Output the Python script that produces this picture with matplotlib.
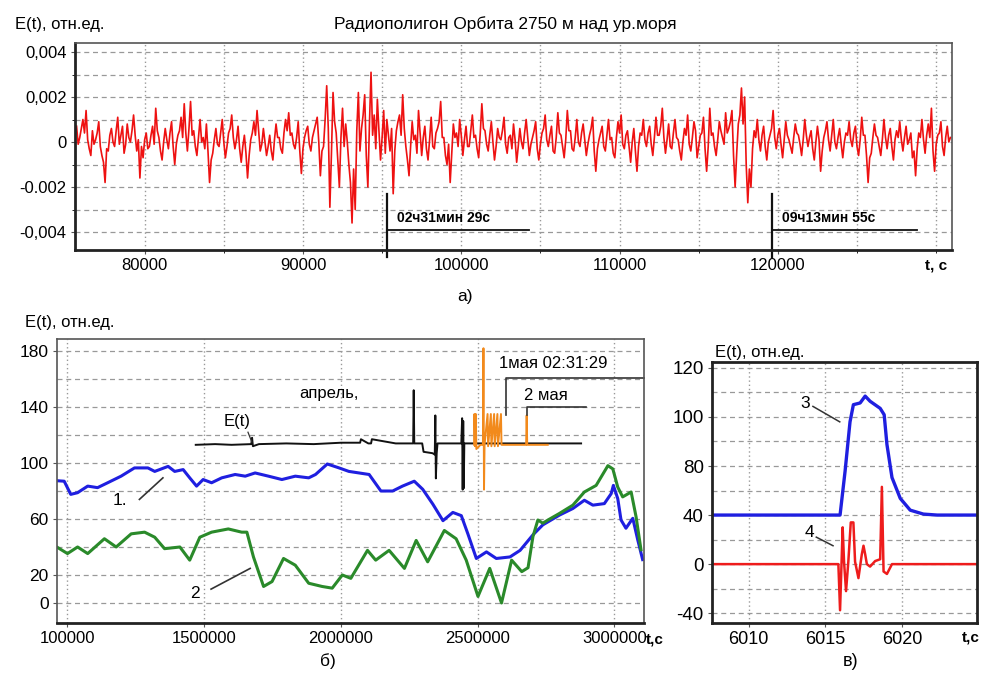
import numpy as np
import matplotlib
matplotlib.use('Agg')
import matplotlib.pyplot as plt
from matplotlib.ticker import FixedLocator

plt.rcParams['font.family'] = ['Liberation Sans', 'DejaVu Sans']

# ---------- а) шум, значения в единицах 1e-4, шаг 100 с ----------
a_t0, a_dt = 75700, 100
a_vals = [
    7, -1, 2, 6, 10, 4, 14, 1, -3, -6, 5, -1, 1, 4, 9, -2, -6, -9, -18, -3,
    -4, 3, 6, 0, -2, 5, 11, -1, 3, 7, -5, -1, 8, 2, 0, 5, 12, 3, -4, 1,
    -16, -2, -7, 1, 4, -3, -2, 3, 7, -1, 15, 5, 2, -4, -8, 0, 6, 1, -3, 4,
    9, -2, -10, -1, 3, 5, 11, 2, 17, 4, -4, 6, 18, 3, 5, -2, -6, 2, 10, 0,
    2, -3, 8, -4, -18, -8, -5, 1, 6, -1, -2, 4, 10, 0, -7, -2, 4, 6, 12, 2,
    -3, 1, 7, -3, -9, -2, 3, -5, -16, -6, 1, 4, 9, 3, 14, 5, -4, -1, 6, 0,
    -6, -2, 3, -4, -8, 1, 8, 2, 2, -3, -5, 4, 10, 5, 13, 3, 4, -1, -3, 2,
    9, -4, -14, -3, 2, 5, 7, -1, -4, 2, 5, 8, 11, 0, -15, -4, -2, 10, 25, 6,
    -29, -5, 22, 9, 4, -8, -20, 2, 15, -2, 8, 0, -10, -18, -36, -12, -30, 5, 22, -4,
    6, 12, 21, -6, -20, 8, 31, 3, 12, -3, 19, 5, -8, 2, 14, -5, 10, 3, -4, 6,
    -23, -4, 5, 9, 12, 3, 21, 6, -2, -8, -15, -2, 9, 1, 3, -5, 14, 4, -6, 2,
    7, -3, -8, 1, 11, -2, -3, 4, 6, 9, 18, 2, 2, -6, -10, -1, -18, -5, 8, 2,
    4, -2, 10, 3, -6, 1, 7, -2, -2, 5, 12, 2, 3, -3, -7, 4, 17, 6, 5, -1,
    -4, 3, 9, 0, -8, -2, 6, 2, 1, 5, 11, -1, -5, 2, 3, -3, 8, 1, -9, -2,
    6, 0, -3, 4, 10, 2, -6, -1, 2, 5, 9, -3, -8, -1, 4, 6, 12, 1, -2, 3,
    7, -4, -5, 2, 13, 4, 3, -2, -7, 1, 14, 5, 5, -3, -4, 2, 10, 0, -2, 4,
    8, 1, -6, -1, 3, 6, 11, -4, -13, -3, 1, 4, 7, -2, -4, 3, 10, 1, 2, -5,
    -7, 2, 9, 4, 12, -1, -3, 3, 5, -2, -9, 0, 6, -4, -13, -2, 4, 3, 10, 1,
    -2, 4, 7, -1, -6, 2, 11, 3, 3, 7, 15, 2, -5, 1, 8, -2, -3, 4, 10, 2,
    1, -4, -8, 0, 6, 3, 12, -1, -4, 2, 9, 5, -7, -2, 3, 4, 11, -3, -13, -2,
    15, 3, 4, -2, -6, 1, 9, 5, 2, -1, 13, 4, 6, 9, 14, -6, -20, -5, 8, 12,
    24, 8, 20, -10, -27, -12, -20, -3, 5, 2, 10, 1, -4, 3, 7, -2, -8, 0, 3, 6,
    14, 2, -3, 3, 6, -1, -7, 1, 9, 3, 1, -2, -5, 2, 8, 4, 3, -1, -6, 1,
    10, 3, -2, 2, 5, -3, -8, 0, 7, 1, -13, -4, 2, 5, 9, 1, -4, 3, 10, 0,
    -3, 2, 6, -1, -7, 0, 4, 3, 9, 1, -2, 4, 7, -2, -6, 1, 11, 3, 3, -6,
    -18, -7, -5, 2, 8, 3, 2, -2, -6, 1, 10, 2, -3, 3, 6, -2, -8, 1, 5, 2,
    9, 1, -4, 2, 7, -1, 1, 4, -7, -4, -15, -3, 4, 2, 10, 1, -5, 3, 8, 2,
    15, -4, -13, -1, 3, 4, 9, -2, -6, 2, 7, 0, 2,
]
a_xticks = [80000, 90000, 100000, 110000, 120000]
a_yticks = [0.004, 0.002, 0, -0.002, -0.004]
a_ylabels = ['0,004', '0,002', '0', '-0.002', '-0,004']
a_marks = [95330, 119630]
a_mark_ends = [104290, 128780]
a_mark_texts = ['02ч31мин 29с', '09ч13мин 55с']

# ---------- б) ----------
b1_t = [951000, 988000, 1012000, 1037000, 1074000, 1110000, 1147000, 1196000, 1245000,
        1294000, 1319000, 1368000, 1392000, 1423000, 1447000, 1472000, 1496000, 1527000,
        1564000, 1613000, 1650000, 1686000, 1735000, 1784000, 1833000, 1882000, 1907000,
        1950000, 1993000, 2029000, 2066000, 2103000, 2146000, 2189000, 2225000, 2268000,
        2299000, 2336000, 2373000, 2409000, 2440000, 2464000, 2495000, 2532000, 2568000,
        2618000, 2655000, 2702000, 2738000, 2799000, 2848000, 2890000, 2921000, 2963000,
        2988000, 2996000, 3012000, 3024000, 3042000, 3067000, 3085000, 3103000]
b1_y = [87.5, 87, 77.6, 78.8, 83.5, 82.4, 85.9, 90.6, 96.5,
        96.5, 94, 97.6, 94, 95.3, 89.4, 83.5, 88.2, 85.9,
        89.4, 91.8, 90.6, 92.9, 90.6, 88.2, 90.6, 89.4, 91.8,
        99.3, 96.5, 94, 92.9, 91.8, 80, 80, 83.5, 87,
        81.2, 70.6, 58.8, 64.7, 62.4, 49.4, 31.8, 36.5, 31.8,
        32.9, 37.6, 48.7, 55.8, 62.8, 67.5, 73.4, 69.9, 71,
        78.1, 84, 74.6, 59.3, 53.4, 60.5, 45.2, 31]
b2_t = [951000, 1000000, 1037000, 1074000, 1135000, 1178000, 1233000, 1282000, 1319000,
        1355000, 1411000, 1447000, 1484000, 1527000, 1588000, 1637000, 1656000, 1680000,
        1717000, 1748000, 1790000, 1833000, 1882000, 1931000, 1968000, 2005000, 2036000,
        2097000, 2127000, 2176000, 2232000, 2275000, 2317000, 2378000, 2421000, 2458000,
        2501000, 2544000, 2587000, 2624000, 2661000, 2684000, 2702000, 2720000, 2738000,
        2757000, 2799000, 2848000, 2890000, 2933000, 2976000, 2994000, 3012000, 3030000,
        3061000, 3079000, 3097000]
b2_y = [41.2, 35.3, 40, 35.3, 45.9, 40, 49.4, 50.6, 47,
        38.8, 40, 30.6, 47, 50.6, 52.9, 50.6, 50.6, 32.9,
        11.8, 15.3, 31.8, 27, 14.1, 11.8, 10.6, 20, 17.6,
        37.6, 30.6, 37.6, 24.7, 44.7, 29.4, 51.8, 45.9, 30.6,
        4.7, 24.7, 0, 30.6, 22.4, 25.2, 47.5, 59.3, 57,
        59.3, 64, 69.9, 79.3, 84, 98.1, 95.8, 82.8, 75.8,
        79.3, 61.6, 38]
# чёрная запись E(t) (апрель)
bE_t = [1469000, 1540000, 1600000, 1672000, 1675000, 1678000, 1700000, 1800000, 1900000,
        2000000, 2070000, 2073000, 2100000, 2110000, 2113000, 2200000, 2264000, 2266000,
        2268000, 2297000, 2302000, 2335000, 2343000, 2345000, 2347000, 2350000, 2353000,
        2440000, 2443000, 2445000, 2447000, 2449000, 2451000, 2878000]
bE_y = [113, 113.5, 113, 113.5, 118, 112, 113.5, 114, 113.5,
        114.5, 114.5, 117, 114, 114, 117, 114, 114, 152,
        114, 114, 108, 107, 106, 134, 89, 107, 114,
        114, 132, 81, 130, 82, 114, 114]
# оранжевая запись (май)
bO_t = [2487000, 2488000, 2490000, 2493000, 2495000, 2510000, 2519000, 2521000, 2523000,
        2525000, 2536000, 2538000, 2548000, 2550000, 2560000, 2562000, 2572000, 2574000,
        2585000, 2587000, 2677000, 2679000, 2681000, 2756000]
bO_y = [113, 135, 112, 135, 110, 113, 113, 182, 81,
        113, 135, 112, 135, 112, 135, 112, 135, 112,
        135, 113, 113, 134, 113, 113]
b_xticks = [1000000, 1500000, 2000000, 2500000, 3000000]
b_xlabels = ['100000', '1500000', '2000000', '2500000', '3000000']
b_yticks = [0, 20, 60, 100, 140, 180]

# ---------- в) ----------
c3_t = [6007.6, 6015.96, 6016.29, 6016.61, 6016.83, 6017.27, 6017.6, 6017.92, 6018.58,
        6018.84, 6019.02, 6019.35, 6019.89, 6020.54, 6021.4, 6022.3, 6024.9]
c3_y = [40, 40, 76, 98, 105, 105.7, 108.5, 106.4, 103.5,
        100.9, 88.8, 70.6, 53.6, 44, 40.8, 40, 40]
c4_t = [6007.6, 6015.85, 6015.96, 6016.13, 6016.22, 6016.35, 6016.5, 6016.66, 6016.83,
        6016.94, 6017.16, 6017.38, 6017.49, 6017.6, 6017.71, 6017.92, 6018.25, 6018.58,
        6018.69, 6018.8, 6019.02, 6019.35, 6024.9]
c4_y = [0, 0, -37.6, 30, 2, -22, 2, 34, 34,
        2, -11.4, 8, 15, 8, 0, -2, 2.5, 4,
        63, -6, -8, 0, 0]
c_xticks = [6010, 6015, 6020]
c_yticks = [-40, 0, 40, 80, 100, 120]

W, H = 984, 679
fig = plt.figure(figsize=(W / 100, H / 100), dpi=100)


def box(l, t, r, b):
    return [l / W, 1 - b / H, (r - l) / W, (b - t) / H]


def ftext(x, y, s, **kw):
    fig.text(x / W, 1 - y / H, s, **kw)


def style(ax, thick=('left', 'bottom')):
    for k, sp in ax.spines.items():
        sp.set_color('#222222' if k in thick else '#555555')
        sp.set_linewidth(2.0 if k in thick else 1.2)
    ax.tick_params(length=3, color='#555555', pad=3)
    ax.grid(axis='y', which='both', color='#999999', ls=(0, (4, 3)), lw=0.9)
    ax.grid(axis='x', which='both', color='#999999', ls=(0, (1, 2)), lw=1.0)
    ax.set_axisbelow(True)


# ----- а) -----
ax1 = fig.add_axes(box(75, 43, 952, 250))
a_y = np.array(a_vals) * 1e-4
a_t = a_t0 + a_dt * np.arange(len(a_vals))
ax1.plot(a_t, a_y, color='#ee1111', lw=1.2)
ax1.set_xlim(75600, 131000)
ax1.set_ylim(-0.0048, 0.0044)
ax1.set_xticks(a_xticks)
ax1.set_xticklabels([str(v) for v in a_xticks], fontsize=12)
ax1.xaxis.set_minor_locator(FixedLocator([85000, 95000, 105000, 115000, 125000, 130000]))
ax1.set_yticks(a_yticks)
ax1.set_yticklabels(a_ylabels, fontsize=12)
ax1.yaxis.set_minor_locator(FixedLocator([0.003, 0.001, -0.001, -0.003]))
ax1.tick_params(which='minor', length=2)
style(ax1)
for xm, xe, s in zip(a_marks, a_mark_ends, a_mark_texts):
    ax1.plot([xm, xm], [-0.0023, -0.0051], color='#111111', lw=1.6, clip_on=False)
    ax1.plot([xm, xe], [-0.0039, -0.0039], color='#111111', lw=1.3)
    ax1.text(xm + 600, -0.0034, s, fontsize=10, fontweight='bold', va='center')
ftext(505, 24, 'Радиополигон Орбита 2750 м над ур.моря', ha='center', va='center', fontsize=12.5)
ftext(15, 25, 'E(t), отн.ед.', ha='left', va='center', fontsize=12)
ftext(925, 266, 't, с', ha='left', va='center', fontsize=11, fontweight='bold')
ftext(465, 297, 'а)', ha='center', va='center', fontsize=12.5)

# ----- б) -----
ax2 = fig.add_axes(box(57, 339, 644, 623))
ax2.plot(b1_t, b1_y, color='#1f1fe0', lw=2.2)
ax2.plot(b2_t, b2_y, color='#2a8a2a', lw=2.2)
ax2.plot(bE_t, bE_y, color='#111111', lw=1.4)
ax2.plot(bO_t, bO_y, color='#f28a1c', lw=1.4)
ax2.set_xlim(961700, 3108000)
ax2.set_ylim(-14.3, 188.6)
ax2.set_xticks(b_xticks)
ax2.set_xticklabels(b_xlabels, fontsize=12)
ax2.set_yticks(b_yticks)
ax2.set_yticklabels([str(v) for v in b_yticks], fontsize=12.5)
ax2.yaxis.set_minor_locator(FixedLocator([40, 80, 120, 160]))
ax2.tick_params(which='minor', length=0)
style(ax2, thick=('bottom',))
ax2.text(2579000, 171, '1мая 02:31:29', fontsize=12, va='center')
ax2.plot([2602000, 2602000, 3108000], [134, 160.4, 160.4], color='#333333', lw=1.2, clip_on=False)
ax2.text(2671000, 148.5, '2 мая', fontsize=12, va='center')
ax2.plot([2679000, 2679000, 2895000], [134, 140.2, 140.2], color='#333333', lw=1.2)
ax2.text(1847000, 149.7, 'апрель,', fontsize=12, va='center')
ax2.text(1570000, 129.5, 'E(t)', fontsize=12, va='center')
ax2.plot([1660000, 1674000], [122, 115], color='#333333', lw=0.9)
ax2.text(1190000, 73, '1.', fontsize=12.5, va='center', ha='center')
ax2.plot([1263000, 1349000], [74, 89.4], color='#333333', lw=1.2)
ax2.text(1466000, 7, '2', fontsize=12.5, va='center', ha='center')
ax2.plot([1525000, 1668000], [9.9, 24.7], color='#333333', lw=1.2)
ftext(25, 323, 'E(t), отн.ед.', ha='left', va='center', fontsize=12)
ftext(646, 640, 't,c', ha='left', va='center', fontsize=11, fontweight='bold')
ftext(328, 661, 'б)', ha='center', va='center', fontsize=12.5)

# ----- в) -----
c_vals = [-80, -40, 0, 40, 80, 100, 120, 140]
c_pos = [-1, 0, 1, 2, 3, 4, 5, 6]


def c_fwd(v):
    return np.interp(v, c_vals, c_pos)


def c_inv(p):
    return np.interp(p, c_pos, c_vals)


ax3 = fig.add_axes(box(712, 362, 977, 623))
ax3.set_yscale('function', functions=(c_fwd, c_inv))
ax3.plot(c3_t, c3_y, color='#1f1fe0', lw=2.4)
ax3.plot(c4_t, c4_y, color='#ee1c1c', lw=1.8)
ax3.set_xlim(6007.6, 6024.9)
ax3.set_ylim(-48, 122.4)
ax3.set_xticks(c_xticks)
ax3.set_xticklabels([str(v) for v in c_xticks], fontsize=13)
ax3.set_yticks(c_yticks)
ax3.set_yticklabels([str(v) for v in c_yticks], fontsize=13.5)
ax3.yaxis.set_minor_locator(FixedLocator([-20, 20, 60, 90, 110]))
ax3.tick_params(which='minor', length=0)
style(ax3, thick=('left', 'bottom', 'top', 'right'))
ax3.text(6013.65, 105.5, '3', fontsize=12.5, ha='center', va='center')
ax3.plot([6014.19, 6015.94], [104.3, 98], color='#333333', lw=1.1)
ax3.text(6013.93, 25.4, '4', fontsize=12.5, ha='center', va='center')
ax3.plot([6014.41, 6015.5], [22, 15], color='#333333', lw=1.1)
ftext(715, 352, 'E(t), отн.ед.', ha='left', va='center', fontsize=12)
ftext(962, 638, 't,c', ha='left', va='center', fontsize=11, fontweight='bold')
ftext(851, 662, 'в)', ha='center', va='center', fontsize=13)

fig.savefig('out.png', dpi=100)
